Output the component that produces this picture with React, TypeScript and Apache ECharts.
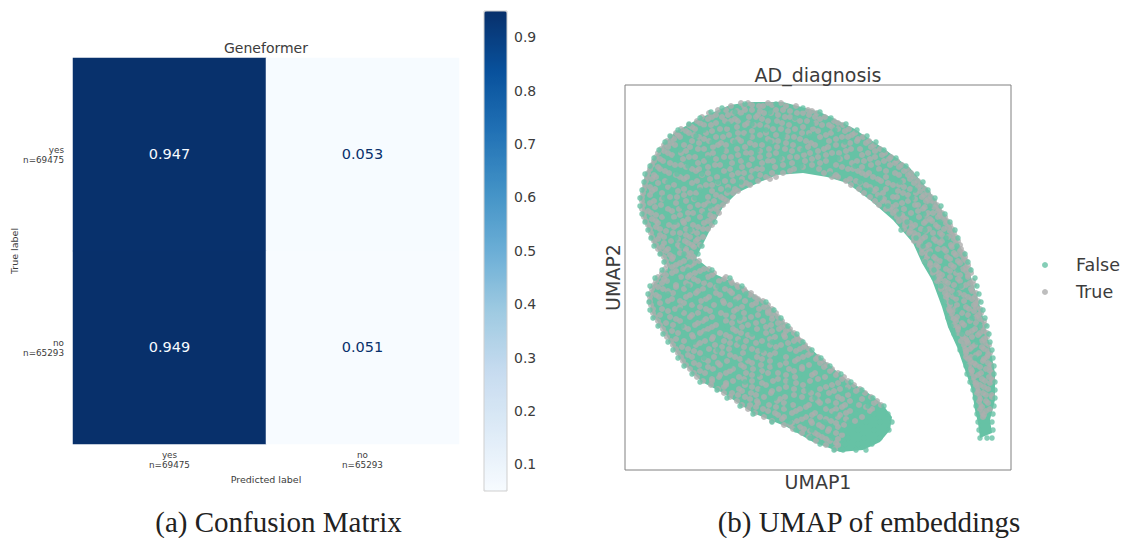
import React, { useEffect, useRef } from "react";
import * as echarts from "echarts";

const FONT = "DejaVu Sans";
const TEXT = "#3c3c3c";
const GREEN = "#66c2a5";
const GRAY = "#aeaeae";

const predictedLabels = ["yes\nn=69475", "no\nn=65293"];
const trueLabels = ["yes\nn=69475", "no\nn=65293"];
const matrixYes = [0.947, 0.053];
const matrixNo = [0.949, 0.051];
const colorbarTicks = [0.1, 0.2, 0.3, 0.4, 0.5, 0.6, 0.7, 0.8, 0.9];
const blues = ["#f7fbff", "#deebf7", "#c6dbef", "#9ecae1", "#6baed6", "#4292c6", "#2171b5", "#08519c", "#08306b"];

// Silhouette of the embedding cloud
const cloudOutline = [
  [696,258],[710,230],[723,207],[737,193],[760,182],[777,175],[803,173],[827,177],[847,183],[870,200],[893,220],[913,243],[922,263],[932,280],[942,307],[948,327],[957,347],[965,370],[972,390],[975,410],[978,423],[980,438],[992,433],[990,420],[995,400],[995,373],[990,347],[982,313],[973,283],[963,253],[950,223],[930,192],[910,168],[883,148],[853,128],[820,112],[783,102],[750,102],[730,105],[700,118],[675,132],[663,145],[653,160],[645,175],[641,197],[643,217],[650,233],[653,243],[665,260],[668,268],[660,275],[653,285],[649,297],[652,313],[663,330],[675,350],[683,363],[702,382],[723,393],[753,413],[787,427],[813,442],[840,452],[863,450],[880,442],[890,430],[892,417],[883,405],[867,392],[847,380],[827,363],[810,348],[787,325],[767,303],[740,285],[717,275],
];

// Each row: UMAP2 value, then the UMAP1 values of the points on it
const trueRows = [
[103,741,748,768,781],
[106,731,744,759,763,786,796],
[110,718,726,745,752,776,783,808],
[113,709,733,741,764,771,797,803,817],
[117,702,712,722,749,756,785,790,815,825],
[121,697,725,731,738,768,777,800,807,834],
[125,689,704,711,745,754,760,789,822,829,843],
[129,681,695,720,727,773,781,795,813,838,849],
[133,676,689,706,738,744,766,802,809,831,855],
[137,671,680,699,716,723,752,787,794,820,842,848,863],
[141,667,692,709,733,741,772,778,806,829,857,869],
[145,664,675,684,718,726,755,762,793,815,836,844,874],
[149,661,698,704,737,769,785,800,824,851,860,880],
[153,658,668,681,713,746,751,776,810,832,839,868,885],
[157,656,689,695,724,731,760,790,797,818,847,875,891],
[161,654,663,704,741,768,773,805,826,857,864,884,897],
[165,652,675,681,715,720,749,783,812,836,871,890,902],
[169,650,660,692,699,730,757,762,794,819,848,853,879,907],
[173,648,669,708,738,744,772,783,824,862,869,895,911],
[177,647,656,680,687,717,751,766,776,832,838,873,886,914],
[181,646,665,697,725,733,758,846,856,881,903,918],
[185,645,674,706,712,742,750,851,866,893,899,921],
[189,644,655,684,721,735,859,876,886,910,925],
[193,643,662,690,696,727,733,864,883,903,916,928],
[197,642,670,677,708,721,870,893,897,922,931],
[201,642,654,686,714,727,875,883,908,926,934],
[205,643,661,698,704,723,879,896,915,918,937],
[209,642,668,679,711,716,886,890,904,923,939],
[213,644,651,688,693,719,893,911,928,933,942],
[217,644,662,674,700,714,897,903,919,938,945],
[221,646,656,683,708,899,905,926,932,947],
[225,648,669,677,693,712,905,915,936,950],
[229,650,660,686,703,708,904,921,929,944,952],
[233,651,673,680,697,909,914,933,940,954],
[237,652,664,690,703,914,925,948,956],
[241,654,671,685,696,914,918,936,942,958],
[245,656,678,692,700,919,929,951,960],
[249,658,668,686,922,938,944,961],
[253,661,680,691,922,927,954,963],
[257,664,673,694,927,934,947,965],
[261,666,684,699,925,940,958,966],
[265,667,676,691,930,936,951,968],
[269,665,683,704,709,932,946,963,969],
[273,662,672,695,714,933,939,956,971],
[277,658,681,688,708,726,938,950,968],
[281,656,667,698,719,731,937,945,960,973],
[285,654,676,690,710,737,941,954,966,974],
[289,652,663,684,703,725,744,941,948,971],
[293,651,673,696,716,732,751,945,959,976],
[297,650,659,686,709,739,755,946,953,968,975],
[301,650,668,680,701,723,745,763,947,964,978],
[305,651,692,714,730,752,768,950,957,974],
[309,653,662,675,706,737,759,772,949,955,969,980],
[313,653,684,698,721,744,768,776,952,962,981],
[317,655,670,690,712,733,751,778,951,957,976],
[321,658,680,703,726,740,763,782,956,970,984],
[325,660,673,695,716,748,771,786,954,964,985],
[329,663,688,708,733,757,779,790,958,975],
[333,665,678,700,720,741,766,794,958,968,980,987],
[337,667,693,713,730,752,775,785,797,963,972,987],
[341,671,684,705,724,746,762,794,801,961,967,982],
[345,673,696,715,737,770,781,805,964,975,989],
[349,676,688,709,729,752,790,800,809,965,970,984],
[353,678,700,722,743,764,775,811,966,979,990],
[357,681,692,714,735,757,786,803,818,966,971,987],
[361,683,708,727,748,770,795,823,971,983],
[365,686,699,720,741,761,780,809,827,969,976,991],
[369,690,713,733,753,789,802,832,971,986],
[373,694,705,726,746,768,778,815,838,971,981,992],
[377,697,719,739,760,795,825,844,974,989],
[381,703,712,733,752,773,786,810,848,973,985,993],
[385,711,726,745,766,803,832,854,976,980],
[389,718,739,758,779,794,820,840,860,977,988],
[393,724,732,751,771,811,829,865,977,983],
[397,730,745,764,785,802,838,871,979,992],
[401,737,757,777,818,828,850,877,979,986],
[405,742,750,769,793,809,845,859,881,980],
[409,748,763,784,800,826,836,872,980,990],
[413,755,775,792,815,846,982],
[417,764,784,806,820,838,862,983],
[421,772,797,811,831,855],
[425,784,790,819,844],
[429,793,804,829],
[433,802,815,836],
[437,809,822],
[441,816,830],
[445,826,838],
[449,835],
];

const trueRowsB = [
[105,752,772],
[111,737,760,790,812],
[115,716,728,758,778,809],
[119,708,735,762,795,820],
[123,700,716,748,782,816,838],
[127,692,737,767,803,832],
[131,686,712,752,788,818,845],
[135,678,694,729,760,776,826,852],
[139,674,704,738,768,800,836,858],
[143,671,699,721,750,786,811,850,866],
[147,668,690,713,745,777,808,828,871],
[151,664,686,726,760,792,818,846,875],
[155,672,708,738,769,804,826,862,882],
[159,660,683,716,752,782,812,840,870,889],
[163,670,698,732,762,792,820,852,878,895],
[167,658,686,708,742,775,803,842,862,899],
[171,665,696,724,752,790,830,858,886,904],
[175,654,676,702,732,760,836,866,899,908],
[179,652,684,710,742,770,850,878,910],
[183,658,692,718,746,860,888,914],
[187,650,668,700,728,870,904,918],
[191,652,678,712,738,874,898,920],
[195,650,684,716,878,908,924],
[199,662,694,724,884,915,928],
[203,650,676,708,888,902,930],
[207,655,690,718,892,925,934],
[211,648,672,702,896,918,938],
[215,656,680,710,902,926,940],
[219,652,688,712,906,930,942],
[223,658,684,704,910,924,946],
[227,656,674,698,912,938,948],
[231,666,692,910,926,950],
[235,660,686,918,942,952],
[239,658,678,698,922,934,954],
[243,664,688,920,940,956],
[247,662,680,694,926,952],
[251,666,686,930,946,960],
[255,670,688,928,956,962],
[259,672,690,936,950,964],
[263,680,694,930,960],
[267,672,688,938,954,966],
[271,676,700,936,950,966],
[275,666,690,712,942,960,968],
[279,664,694,724,940,958],
[283,662,686,704,732,948,970],
[287,658,676,716,738,944,962],
[291,668,698,730,745,952,972],
[295,656,690,720,750,948,964],
[299,672,706,736,758,956,972],
[303,660,684,724,756,950,976],
[307,680,700,742,764,966,976],
[311,668,710,734,768,950,974],
[315,660,692,726,758,772,968,978],
[319,676,706,744,772,954,980],
[323,666,698,732,756,778,962,976],
[327,684,712,742,766,782,958,982],
[331,672,704,736,772,786,972,984],
[335,692,726,748,784,962,978],
[339,676,712,738,770,798,966,984],
[343,700,730,756,788,968,986],
[347,682,722,744,776,804,972,982],
[351,694,716,758,796,966,988],
[355,688,730,770,808,976,988],
[359,704,740,762,798,816,968,984],
[363,694,718,752,786,820,974,988],
[367,708,744,770,802,824,980,990],
[371,700,730,762,794,830,972,990],
[375,720,752,786,812,836,978],
[379,712,744,778,818,842,982,992],
[383,726,762,796,838,976,990],
[387,724,752,786,826,848,984],
[391,742,772,804,834,856,978],
[395,738,756,794,818,848,986,992],
[399,750,780,812,842,862,980],
[403,758,784,820,836,874,988],
[407,756,776,806,842,866,982],
[411,768,796,832,850,870,986],
[415,778,812,840,984],
[419,782,802,826,846],
[423,792,812,836],
[427,800,822,838],
[431,810,828],
[435,818,842],
[439,826,838],
[443,836],
];

const falseRows = [
[104,745,776],
[108,722,803],
[112,711,735,770,820],
[118,700,742,795,831],
[124,689,728,752,812,846],
[130,678,704,766,835,857],
[136,670,696,748,783,810,867],
[142,665,712,735,770,845,876],
[150,659,680,722,757,803,884],
[158,654,676,708,745,780,838,896],
[166,650,688,726,768,801,855,906],
[174,645,677,702,755,830,880,917],
[182,644,668,718,741,860,900,923],
[190,642,672,700,728,870,915,928],
[198,640,664,695,880,912,935],
[206,640,682,710,888,930,941],
[214,642,666,705,899,924,945],
[222,645,675,715,907,940,950],
[230,648,690,901,925,955],
[238,651,676,916,946,958],
[246,654,682,702,923,957],
[254,660,684,698,930,965],
[262,664,690,925,945,968],
[270,662,688,712,934,958,971],
[278,655,676,703,730,934,975],
[286,650,688,718,742,941,961,977],
[294,648,668,704,746,956,979],
[302,649,696,735,766,944,951,981],
[310,650,680,726,774,958,983],
[318,653,700,740,781,948,972,985],
[326,658,682,727,788,951,980,987],
[334,663,706,752,797,954,962,989],
[342,668,694,740,772,803,977,990],
[350,673,718,762,812,960,992],
[358,678,704,745,780,821,975,993],
[366,684,730,775,830,966,994],
[374,692,715,758,800,841,967,994],
[382,700,745,790,851,970,995],
[390,717,762,808,846,862,973,995],
[398,727,775,815,855,873,975,995],
[406,740,788,830,868,884,976,994],
[414,753,802,835,856,874,888,977,993],
[422,772,790,825,849,866,880,892,978,992],
[430,796,812,842,858,874,889,979,993],
[438,810,832,848,864,880,980,987,992],
[444,820,845,858,872],
[450,834,843,856,866],
];

const toPoints = (rows: number[][]) =>
  rows.flatMap((row) => row.slice(1).map((x) => [x, row[0]]));

export default function App() {
  const ref = useRef<HTMLDivElement>(null);
  useEffect(() => {
    const chart = echarts.init(ref.current!, null, { renderer: "svg" });
    const cell = (x: number, y: number, v: number) => ({
      value: [x, y, v],
      label: { color: v > 0.5 ? "#f7fbff" : "#08306b" },
    });
    const axisFont = { fontFamily: FONT, color: TEXT };
    chart.setOption({
      animation: false,
      backgroundColor: "#ffffff",
      textStyle: { fontFamily: FONT },
      title: [
        { text: "Geneformer", left: 266, top: 41, padding: 0, textAlign: "center", textStyle: { ...axisFont, fontSize: 14, fontWeight: "normal" } },
        { text: "AD_diagnosis", left: 818, top: 65, padding: 0, textAlign: "center", textStyle: { ...axisFont, fontSize: 19, fontWeight: "normal" } },
      ],
      grid: [
        { left: 73, top: 58, width: 386, height: 386 },
        { left: 484, top: 11, width: 23, height: 480 },
        { left: 625, top: 85, width: 386, height: 385, show: true, borderColor: "#808080", borderWidth: 1, backgroundColor: "transparent" },
      ],
      xAxis: [
        {
          gridIndex: 0, type: "category", data: predictedLabels, position: "bottom",
          name: "Predicted label", nameLocation: "middle", nameGap: 29,
          nameTextStyle: { ...axisFont, fontSize: 9.5 },
          axisLine: { show: false }, axisTick: { show: false }, splitLine: { show: false },
          axisLabel: { ...axisFont, fontSize: 8.8, lineHeight: 10, margin: 6 },
        },
        { gridIndex: 1, type: "value", show: false, min: 0, max: 1 },
        {
          gridIndex: 2, type: "value", min: 625, max: 1011, name: "UMAP1", nameLocation: "middle", nameGap: 2,
          nameTextStyle: { ...axisFont, fontSize: 19, verticalAlign: "top" },
          axisLine: { show: false }, axisTick: { show: false }, axisLabel: { show: false }, splitLine: { show: false },
        },
      ],
      yAxis: [
        {
          gridIndex: 0, type: "category", data: trueLabels, inverse: true,
          name: "True label", nameLocation: "middle", nameGap: 50,
          nameTextStyle: { ...axisFont, fontSize: 9.5 },
          axisLine: { show: false }, axisTick: { show: false }, splitLine: { show: false },
          axisLabel: { ...axisFont, fontSize: 8.8, lineHeight: 10, margin: 9, align: "right" },
        },
        {
          gridIndex: 1, type: "value", position: "right", min: 0.05, max: 0.949,
          axisLine: { show: false }, splitLine: { show: false },
          axisTick: { show: true, length: 4, customValues: colorbarTicks, lineStyle: { color: "#555555", width: 1 } },
          axisLabel: { ...axisFont, fontSize: 14, margin: 7, customValues: colorbarTicks, formatter: (v: number) => v.toFixed(1) },
        },
        {
          gridIndex: 2, type: "value", min: 85, max: 470, inverse: true, name: "UMAP2", nameLocation: "middle", nameGap: 3,
          nameTextStyle: { ...axisFont, fontSize: 19, verticalAlign: "bottom" },
          axisLine: { show: false }, axisTick: { show: false }, axisLabel: { show: false }, splitLine: { show: false },
        },
      ],
      visualMap: {
        type: "continuous", seriesIndex: 0, dimension: 2, min: 0.05, max: 0.949,
        left: 484, top: 11, itemWidth: 23, itemHeight: 480, padding: 0,
        calculable: false, realtime: false, hoverLink: false, text: null, showLabel: false,
        inRange: { color: blues },
      },
      legend: {
        left: 1042, top: 256, padding: 0, orient: "vertical", itemGap: 9, itemWidth: 6, itemHeight: 6, icon: "circle",
        data: ["False", "True"], selectedMode: false,
        textStyle: { ...axisFont, fontSize: 17.5, padding: [0, 0, 0, 23] },
      },
      series: [
        {
          type: "heatmap", xAxisIndex: 0, yAxisIndex: 0, silent: true,
          data: [
            cell(0, 0, matrixYes[0]), cell(1, 0, matrixYes[1]),
            cell(0, 1, matrixNo[0]), cell(1, 1, matrixNo[1]),
          ],
          label: { show: true, fontFamily: FONT, fontSize: 14.5, offset: [0, -1], formatter: (p: any) => p.value[2].toFixed(3) },
        },
        {
          type: "custom", name: "cloud", xAxisIndex: 2, yAxisIndex: 2, silent: true, data: [[0, 0]], clip: false, z: 1,
          renderItem: (_p: any, api: any) => ({
            type: "polygon",
            shape: { points: cloudOutline.map((pt) => api.coord(pt)) },
            style: { fill: GREEN },
          }),
        },
        {
          type: "scatter", name: "True", xAxisIndex: 2, yAxisIndex: 2, silent: true, z: 2,
          symbol: "circle", symbolSize: 6, itemStyle: { color: GRAY }, data: [...toPoints(trueRows), ...toPoints(trueRowsB)],
        },
        {
          type: "scatter", name: "False", xAxisIndex: 2, yAxisIndex: 2, silent: true, z: 3,
          symbol: "circle", symbolSize: 5.5, itemStyle: { color: GREEN }, data: toPoints(falseRows),
        },
      ],
      graphic: [
        { type: "rect", z: 100, shape: { x: 484, y: 11, width: 23, height: 480 }, style: { fill: "transparent", stroke: "#cfcfcf", lineWidth: 1 }, silent: true },
        { type: "text", z: 100, x: 278.5, y: 522, style: { text: "(a) Confusion Matrix", font: "29px 'Liberation Serif'", fill: "#222222", textAlign: "center", textVerticalAlign: "middle" } },
        { type: "text", z: 100, x: 869, y: 522, style: { text: "(b) UMAP of embeddings", font: "29px 'Liberation Serif'", fill: "#222222", textAlign: "center", textVerticalAlign: "middle" } },
      ],
    });
    return () => chart.dispose();
  }, []);
  return <div ref={ref} style={{ position: "fixed", left: 0, top: 0, width: 1126, height: 538, background: "#fff" }} />;
}
